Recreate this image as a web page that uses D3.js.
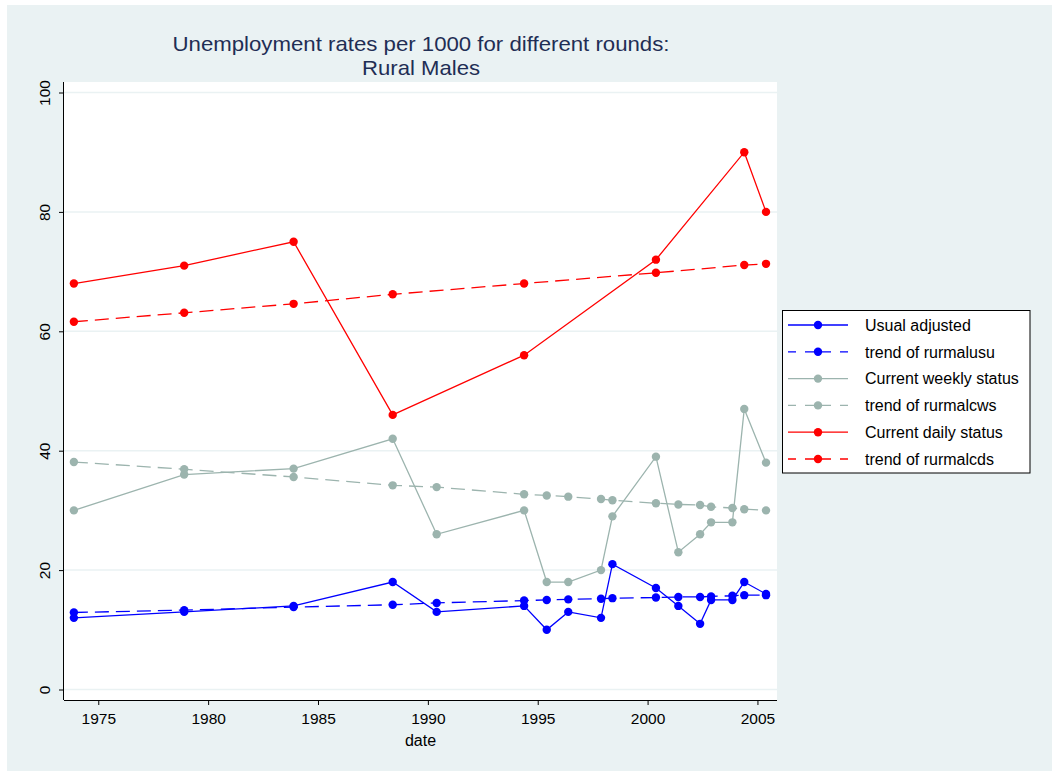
<!DOCTYPE html>
<html>
<head>
<meta charset="utf-8">
<script src="https://cdn.jsdelivr.net/npm/d3@7"></script>
<style>
  html, body { margin: 0; padding: 0; background: #ffffff; }
  svg { display: block; }
  text { font-family: Arial, "Liberation Sans", Helvetica, sans-serif; }
</style>
</head>
<body>
<svg id="chart" width="1052" height="771"></svg>
<script>
// Survey rounds (decimal year of each round's midpoint)
const roundDates = [1973.89, 1978.91, 1983.89, 1988.40, 1990.40, 1994.38, 1995.41, 1996.39,
                    1997.88, 1998.40, 2000.38, 2001.40, 2002.39, 2002.89, 2003.86, 2004.40, 2005.39];
// Rounds that report the current daily status
const cdsDates = [1973.89, 1978.91, 1983.89, 1988.40, 1994.38, 2000.38, 2004.40, 2005.39];

// Usual status (adjusted) and its linear trend
const usualAdjusted = [12, 13, 14, 18, 13, 14, 10, 13, 12, 21, 17, 14, 11, 15, 15, 18, 16];
const trendUsual    = [12.9, 13.3, 13.8, 14.2, 14.5, 14.9, 15.0, 15.1, 15.2, 15.3, 15.4, 15.5, 15.5, 15.6, 15.7, 15.8, 15.8];

// Current weekly status and its linear trend
const currentWeekly = [30, 36, 37, 42, 26, 30, 18, 18, 20, 29, 39, 23, 26, 28, 28, 47, 38];
const trendWeekly   = [38.1, 36.9, 35.6, 34.2, 33.9, 32.7, 32.5, 32.3, 31.9, 31.7, 31.2, 31.0, 30.9, 30.6, 30.4, 30.2, 30.0];

// Current daily status and its linear trend
const currentDaily = [68, 71, 75, 46, 56, 72, 90, 80];
const trendDaily   = [61.6, 63.1, 64.6, 66.2, 68.0, 69.8, 71.1, 71.3];

// Axis ticks and labels
const xTicks = [1975, 1980, 1985, 1990, 1995, 2000, 2005];
const yTicks = [0, 20, 40, 60, 80, 100];
const titleLines = ["Unemployment rates per 1000 for different rounds:", "Rural Males"];
const xAxisLabel = "date";
const legendLabels = ["Usual adjusted", "trend of rurmalusu", "Current weekly status",
                      "trend of rurmalcws", "Current daily status", "trend of rurmalcds"];

const BLUE = "#0000ff", GRAY = "#9cb4ae", RED = "#ff0000";

const series = [
  { label: legendLabels[0], dates: roundDates, values: usualAdjusted, color: BLUE, dashed: false },
  { label: legendLabels[1], dates: roundDates, values: trendUsual,    color: BLUE, dashed: true },
  { label: legendLabels[2], dates: roundDates, values: currentWeekly, color: GRAY, dashed: false },
  { label: legendLabels[3], dates: roundDates, values: trendWeekly,   color: GRAY, dashed: true },
  { label: legendLabels[4], dates: cdsDates,   values: currentDaily,  color: RED,  dashed: false },
  { label: legendLabels[5], dates: cdsDates,   values: trendDaily,    color: RED,  dashed: true }
];

const svg = d3.select("#chart");
const W = 1052, H = 771;
const DASH = "14,7";
const R = 4.2;

// Graph background
svg.append("rect").attr("x", 0).attr("y", 0).attr("width", W).attr("height", H).attr("fill", "#ffffff");
svg.append("rect").attr("x", 7).attr("y", 5).attr("width", W - 7).attr("height", H - 5).attr("fill", "#eaf2f3");

// Plot region
const plot = { left: 64, right: 777, top: 82, bottom: 700 };
svg.append("rect")
  .attr("x", plot.left).attr("y", plot.top)
  .attr("width", plot.right - plot.left).attr("height", plot.bottom - plot.top)
  .attr("fill", "#ffffff");

const x = d3.scaleLinear().domain([1973.44, 2005.89]).range([plot.left, plot.right]);
const y = d3.scaleLinear().domain([0, 100]).range([689.5, 92.5]);

// Horizontal grid lines
svg.append("g").selectAll("line").data(yTicks).join("line")
  .attr("x1", plot.left).attr("x2", plot.right)
  .attr("y1", d => y(d)).attr("y2", d => y(d))
  .attr("stroke", "#eaf2f3").attr("stroke-width", 1.5);

// X axis
const xAxis = svg.append("g").attr("transform", `translate(0,${plot.bottom})`)
  .call(d3.axisBottom(x).tickValues(xTicks).tickFormat(d3.format("d")).tickSize(5).tickPadding(8));
xAxis.select(".domain").attr("d", `M${plot.left},0.5H${plot.right}`).attr("stroke", "#000");
xAxis.selectAll(".tick line").attr("stroke", "#000");
xAxis.selectAll(".tick text").attr("font-size", "15.5px").attr("fill", "#000")
  .attr("font-family", "Arial, 'Liberation Sans', sans-serif");

// Y axis with vertical tick labels
const yAxis = svg.append("g").attr("transform", `translate(${plot.left},0)`)
  .call(d3.axisLeft(y).tickValues(yTicks).tickSize(5).tickFormat(d3.format("d")));
yAxis.select(".domain").attr("d", `M-0.5,${plot.top}V${plot.bottom}`).attr("stroke", "#000");
yAxis.selectAll(".tick line").attr("stroke", "#000");
yAxis.selectAll(".tick text")
  .attr("font-size", "15.5px").attr("fill", "#000")
  .attr("font-family", "Arial, 'Liberation Sans', sans-serif")
  .attr("text-anchor", "middle")
  .attr("x", null).attr("dy", null)
  .attr("transform", "translate(-14,0) rotate(-90)");

// Axis title
svg.append("text")
  .attr("x", (plot.left + plot.right) / 2).attr("y", 746)
  .attr("text-anchor", "middle").attr("font-size", "16px").attr("fill", "#000")
  .text(xAxisLabel);

// Chart title, two centred lines stretched to their set widths
const titleWidths = [497, 118];
svg.append("g").selectAll("text").data(titleLines).join("text")
  .attr("x", (plot.left + plot.right) / 2 + 0.5)
  .attr("y", (d, i) => 51 + i * 24)
  .attr("text-anchor", "middle").attr("font-size", "21px").attr("fill", "#1f2e55")
  .attr("textLength", (d, i) => titleWidths[i])
  .attr("lengthAdjust", "spacingAndGlyphs")
  .text(d => d);

// Series: lines and markers
const line = d3.line().x(d => x(d[0])).y(d => y(d[1]));
series.forEach(s => {
  const pts = s.dates.map((d, i) => [d, s.values[i]]);
  const g = svg.append("g");
  g.append("path").datum(pts)
    .attr("d", line).attr("fill", "none")
    .attr("stroke", s.color).attr("stroke-width", 1.3)
    .attr("stroke-dasharray", s.dashed ? DASH : null);
  g.selectAll("circle").data(pts).join("circle")
    .attr("cx", d => x(d[0])).attr("cy", d => y(d[1])).attr("r", R)
    .attr("fill", s.color);
});

// Legend
const lg = svg.append("g");
lg.append("rect").attr("x", 782.5).attr("y", 310.5).attr("width", 247.5).attr("height", 162.5)
  .attr("fill", "#ffffff").attr("stroke", "#000").attr("stroke-width", 1);
series.forEach((s, i) => {
  const cy = 325 + i * 26.8;
  lg.append("line").attr("x1", 788).attr("x2", 848).attr("y1", cy).attr("y2", cy)
    .attr("stroke", s.color).attr("stroke-width", 1.3)
    .attr("stroke-dasharray", s.dashed ? "8,9,26,9,8" : null);
  lg.append("circle").attr("cx", 818).attr("cy", cy).attr("r", R).attr("fill", s.color);
  lg.append("text").attr("x", 865).attr("y", cy + 5.7)
    .attr("font-size", "16px").attr("fill", "#000").text(s.label);
});
</script>
</body>
</html>
